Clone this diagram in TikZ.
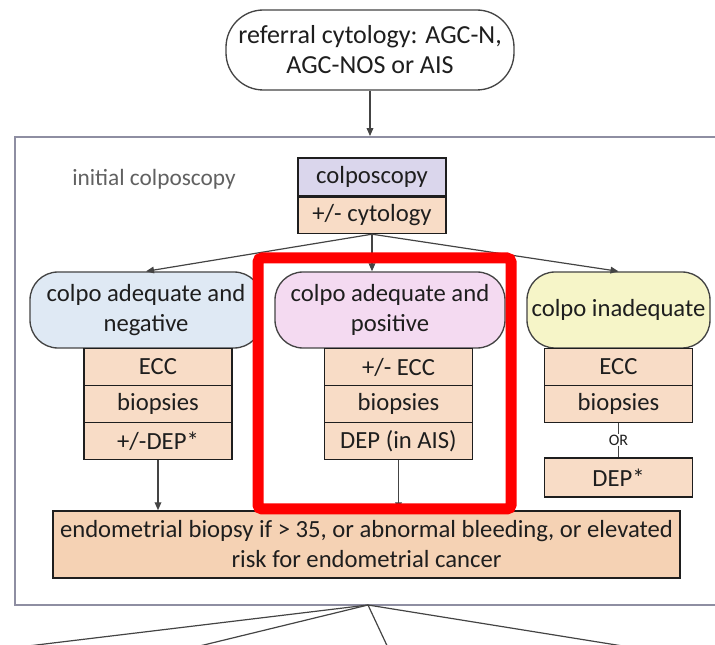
\documentclass[tikz,border=0pt]{standalone}
\usepackage{fontspec}
\setmainfont{Carlito}
\usetikzlibrary{arrows.meta}
\definecolor{lavfill}{HTML}{DAD6EC}
\definecolor{peach}{HTML}{F8DCC6}
\definecolor{peachdark}{HTML}{F5D2B4}
\definecolor{bluefill}{HTML}{DFE9F4}
\definecolor{pinkfill}{HTML}{F4DAF1}
\definecolor{yellowfill}{HTML}{F6F5C8}
\definecolor{framegray}{HTML}{8E8EA2}
\definecolor{inkdark}{HTML}{1E1E1E}
\definecolor{linegray}{HTML}{444444}
\definecolor{hlred}{HTML}{FF0000}
\tikzset{
  txt/.style={font=\fontsize{18.5}{22.5}\selectfont, text=inkdark, align=center, inner sep=0pt},
  cell/.style={txt, draw=inkdark, line width=1.1pt, fill=peach, minimum width=111pt, minimum height=27.75pt},
  oval/.style={txt, draw=linegray, line width=1pt, rounded corners=21pt, minimum height=57pt},
  conn/.style={draw=linegray, line width=0.9pt},
  arr/.style={conn, -{Triangle[length=6pt,width=5pt]}},
}
\begin{document}
\begin{tikzpicture}[x=0.75pt,y=-0.75pt]
\useasboundingbox (0,0) rectangle (715,645);
\clip (0,0) rectangle (715,645);

% referral cytology
\node[oval, font=\fontsize{19.5}{22.5}\selectfont, rounded corners=28pt, fill=white, minimum width=216pt, minimum height=60pt] (ref) at (370,50)
  {referral cytology: AGC-N,\\AGC-NOS or AIS};

% frame of the initial colposcopy step
\node[draw=framegray, line width=1.4pt, minimum width=528.75pt, minimum height=351pt, inner sep=0pt] (frame) at (367.5,371) {};
\node[txt, font=\fontsize{17.5}{20}\selectfont, text=black!62] (title) at (154,179) {initial colposcopy};

% colposcopy +/- cytology
\node[cell, fill=lavfill, minimum height=28.5pt] (colpo) at (372,177) {colposcopy};
\node[cell, minimum height=27pt, anchor=north] (cyto) at (colpo.south) {+/- cytology};

% outcomes
\node[oval, fill=bluefill, minimum width=174pt] (neg) at (146,310) {colpo adequate and\\negative};
\node[oval, fill=pinkfill, minimum width=172.5pt] (pos) at (390,310) {colpo adequate and\\positive};
\node[oval, fill=yellowfill, minimum width=137.25pt] (inad) at (618.5,310) {colpo inadequate};

\draw[arr] (cyto.south) -- (neg.north);
\draw[arr] (cyto.south) -- (cyto.south |- pos.north);
\draw[arr] (cyto.south) -- (inad.north);

% negative branch
\node[cell] (negecc) at (158,367) {ECC};
\node[cell] (negbio) at (158,404) {biopsies};
\node[cell] (negdep) at (158,441) {+/-DEP*};

% positive branch
\node[cell] (posecc) at (398.5,367) {+/- ECC};
\node[cell] (posbio) at (398.5,404) {biopsies};
\node[cell] (posdep) at (398.5,441) {DEP (in AIS)};

% inadequate branch
\node[cell] (inecc) at (618.5,367) {ECC};
\node[cell] (inbio) at (618.5,404) {biopsies};
\node[txt, font=\fontsize{12}{13}\selectfont] (orlab) at (618.5,440) {OR};
\node[cell, minimum height=29.25pt] (indep) at (618.5,477.5) {DEP*};
\draw[conn, line width=0.6pt] (inbio.south) -- (orlab.north);
\draw[conn, line width=0.6pt] (orlab.south) -- (indep.north);

% endometrial biopsy
\node[cell, fill=peachdark, minimum width=470.25pt, minimum height=50.25pt] (endo) at (366.5,544.5)
  {endometrial biopsy if > 35, or abnormal bleeding, or elevated\\risk for endometrial cancer};
\draw[arr] (negdep.south) -- (negdep.south |- endo.north);
\draw[arr] (posdep.south) -- (posdep.south |- endo.north);

% arrows into the following steps
\draw[arr] (ref.south) -- (ref.south |- frame.north);
\coordinate (fan) at (368,605);
\coordinate (outA) at (-5,650);
\coordinate (outB) at (175,652);
\coordinate (outC) at (390,652);
\coordinate (outD) at (660,652);
\draw[conn] (fan) -- (outA);
\draw[conn] (fan) -- (outB);
\draw[conn] (fan) -- (outC);
\draw[conn] (fan) -- (outD);

% highlight around the positive branch
\draw[hlred, line width=8.25pt, rounded corners=3pt] (258,258) rectangle (511,509);
\end{tikzpicture}
\end{document}
